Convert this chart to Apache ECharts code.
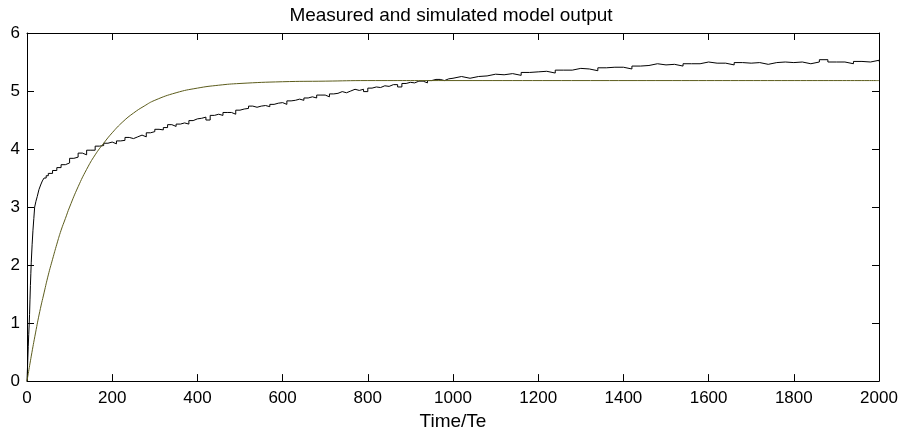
<!DOCTYPE html>
<html>
<head>
<meta charset="utf-8">
<title>Measured and simulated model output</title>
<script src="https://cdn.jsdelivr.net/npm/echarts@6/dist/echarts.min.js"></script>
<style>
html,body{margin:0;padding:0;background:#fff;}
#chart{width:902px;height:436px;}
</style>
</head>
<body>
<div id="chart"></div>
<script>
var xTicks=[0,200,400,600,800,1000,1200,1400,1600,1800,2000];
var yTicks=[0,1,2,3,4,5,6];

//measured output
var measuredTime=[0,1,2,3,4,5,6,7,8,9,10,12,14,16,18,21,24,28,32,36,40,45,50,
	60,70,80,90,100,110,120,130,140,150,160,170,180,190,200,210,220,230,240,250,
	260,270,280,290,300,310,320,330,340,350,360,370,380,390,400,410,420,430,440,450,
	460,470,480,490,500,510,520,530,540,550,560,570,580,590,600,610,620,630,640,650,
	660,670,680,690,700,710,720,730,740,750,760,770,780,790,800,810,820,830,840,850,
	860,870,880,890,900,910,920,930,940,950,960,970,980,990,1000,
	1020,1040,1060,1080,1100,1120,1140,1160,1180,1200,1220,1240,1260,1280,1300,
	1320,1340,1360,1380,1400,1420,1440,1460,1480,1500,1520,1540,1560,1580,1600,
	1620,1640,1660,1680,1700,1720,1740,1760,1780,1800,1820,1840,1860,1880,1900,
	1920,1940,1960,1980,2000];
var measuredValue=[0,0.2,0.4,0.6,0.8,0.95,1.15,1.4,1.65,1.85,2.05,2.35,2.6,2.8,3.0,3.1,3.18,3.3,3.38,3.45,3.5,3.54,3.58,
	3.63,3.68,3.73,3.76,3.84,3.86,3.93,3.9,3.98,3.98,4.05,4.06,4.1,4.12,4.09,4.14,4.15,4.2,4.18,4.21,
	4.24,4.21,4.28,4.3,4.34,4.33,4.37,4.42,4.39,4.43,4.45,4.43,4.49,4.52,4.53,4.55,4.5,4.58,4.6,4.58,
	4.63,4.63,4.6,4.67,4.69,4.7,4.74,4.72,4.74,4.75,4.73,4.77,4.79,4.8,4.77,4.83,4.84,4.86,4.84,4.88,
	4.9,4.88,4.93,4.93,4.9,4.95,4.96,4.99,4.97,5.0,5.03,5.01,5.03,4.99,5.05,5.07,5.06,5.09,5.08,5.11,
	5.11,5.07,5.13,5.15,5.14,5.17,5.17,5.14,5.18,5.2,5.2,5.18,5.21,5.22,5.25,
	5.22,5.25,5.26,5.29,5.28,5.3,5.27,5.32,5.33,5.34,5.31,5.36,5.36,5.39,5.38,
	5.35,5.4,5.41,5.41,5.38,5.43,5.44,5.47,5.45,5.46,5.43,5.47,5.47,5.5,5.48,
	5.48,5.45,5.49,5.48,5.49,5.46,5.49,5.5,5.49,5.5,5.47,5.5,5.54,5.5,5.5,
	5.47,5.51,5.5,5.53,5.51];

//simulated model output
var simTime=[0,10,20,30,40,50,60,70,80,90,100,120,140,160,180,200,225,250,275,300,350,400,450,500,600,700,800,1000,2000];
var simValue=[0,0.43,0.83,1.2,1.52,1.83,2.1,2.36,2.6,2.8,3.0,3.35,3.65,3.9,4.1,4.28,4.47,4.62,4.74,4.84,4.97,5.05,5.1,5.13,5.16,5.17,5.18,5.18,5.18];

function zip(a,b){
	var out=[];
	for(var i=0;i<a.length;i++){
		out.push([a[i],b[i]]);
	}
	return out;
}

var font='Liberation Sans, Arial, Helvetica, sans-serif';
var black='#000';

function makeAxis(type,pos,ticks,showLabel){
	return {
		type:'value',
		position:pos,
		min:ticks[0],
		max:ticks[ticks.length-1],
		interval:ticks[1]-ticks[0],
		axisLine:{show:true,onZero:false,lineStyle:{color:black,width:1}},
		axisTick:{show:true,inside:true,length:7,lineStyle:{color:black,width:1}},
		axisLabel:{
			show:showLabel,color:black,fontSize:17,fontFamily:font,margin:type=='x'?9:7,
			formatter:function(v){return String(v);}//no thousands separator
		},
		splitLine:{show:false}
	};
}

var xBottom=makeAxis('x','bottom',xTicks,true);
xBottom.name='Time/Te';
xBottom.nameLocation='middle';
xBottom.nameGap=29;
xBottom.nameTextStyle={color:black,fontSize:19,fontFamily:font};

var option={
	animation:false,
	backgroundColor:'#fff',
	title:{
		text:'Measured and simulated model output',
		left:'center',
		top:1,
		textStyle:{color:black,fontSize:19,fontWeight:'normal',fontFamily:font}
	},
	grid:{left:27,right:23,top:33,bottom:53,containLabel:false},
	xAxis:[xBottom,makeAxis('x','top',xTicks,false)],
	yAxis:[makeAxis('y','left',yTicks,true),makeAxis('y','right',yTicks,false)],
	series:[
		{
			name:'measured',
			type:'line',
			step:'end',
			showSymbol:false,
			symbol:'none',
			lineStyle:{color:black,width:1},
			data:zip(measuredTime,measuredValue)
		},
		{
			name:'simulated',
			type:'line',
			smooth:true,
			showSymbol:false,
			symbol:'none',
			lineStyle:{color:'#5c5c1c',width:1},
			data:zip(simTime,simValue)
		}
	]
};

var myChart=echarts.init(document.getElementById('chart'));
myChart.setOption(option);
</script>
</body>
</html>
